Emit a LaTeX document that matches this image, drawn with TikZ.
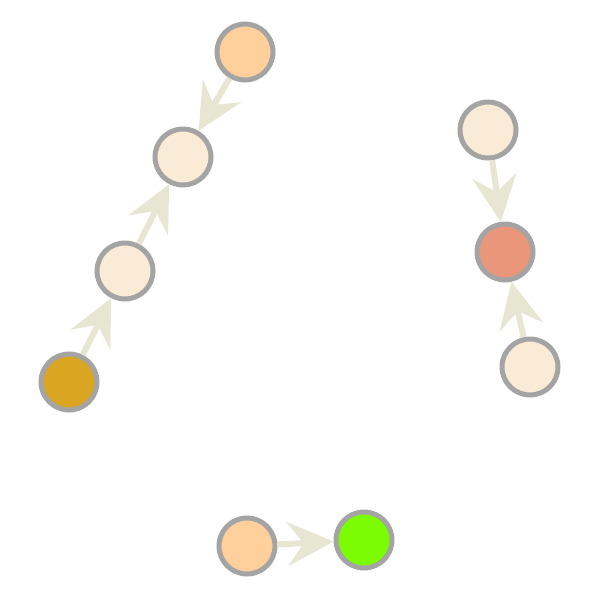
\documentclass[tikz,border=0pt]{standalone}
\usetikzlibrary{arrows.meta}
\definecolor{peach}{HTML}{FFD09B}
\definecolor{antique}{HTML}{FAEBD7}
\definecolor{golden}{HTML}{DAA520}
\definecolor{salmon}{HTML}{E9967A}
\definecolor{lawn}{HTML}{7CFC00}
\definecolor{edgec}{HTML}{E6E6D2}
\definecolor{ringc}{HTML}{A4A4A4}
\tikzset{
  vtx/.style={circle, draw=ringc, line width=5pt, minimum size=56pt, inner sep=0pt},
  link/.style={draw=edgec, line width=6pt, -{Stealth[length=46pt, width=44pt, inset=16pt]}}
}
\begin{document}
\begin{tikzpicture}[x=1pt, y=-1pt]
\useasboundingbox (0,0) rectangle (600,600);
\node[vtx, fill=peach] (a) at (245,52) {};
\node[vtx, fill=antique] (b) at (183,157) {};
\node[vtx, fill=antique] (c) at (125,271) {};
\node[vtx, fill=golden] (d) at (69,382) {};
\node[vtx, fill=antique] (e) at (488,130) {};
\node[vtx, fill=salmon] (f) at (505,252) {};
\node[vtx, fill=antique] (g) at (530,367) {};
\node[vtx, fill=peach] (h) at (247,546) {};
\node[vtx, fill=lawn] (i) at (364,540) {};
\draw[link] (a) -- (b);
\draw[link] (c) -- (b);
\draw[link] (d) -- (c);
\draw[link] (e) -- (f);
\draw[link] (g) -- (f);
\draw[link] (h) -- (i);
\end{tikzpicture}
\end{document}
